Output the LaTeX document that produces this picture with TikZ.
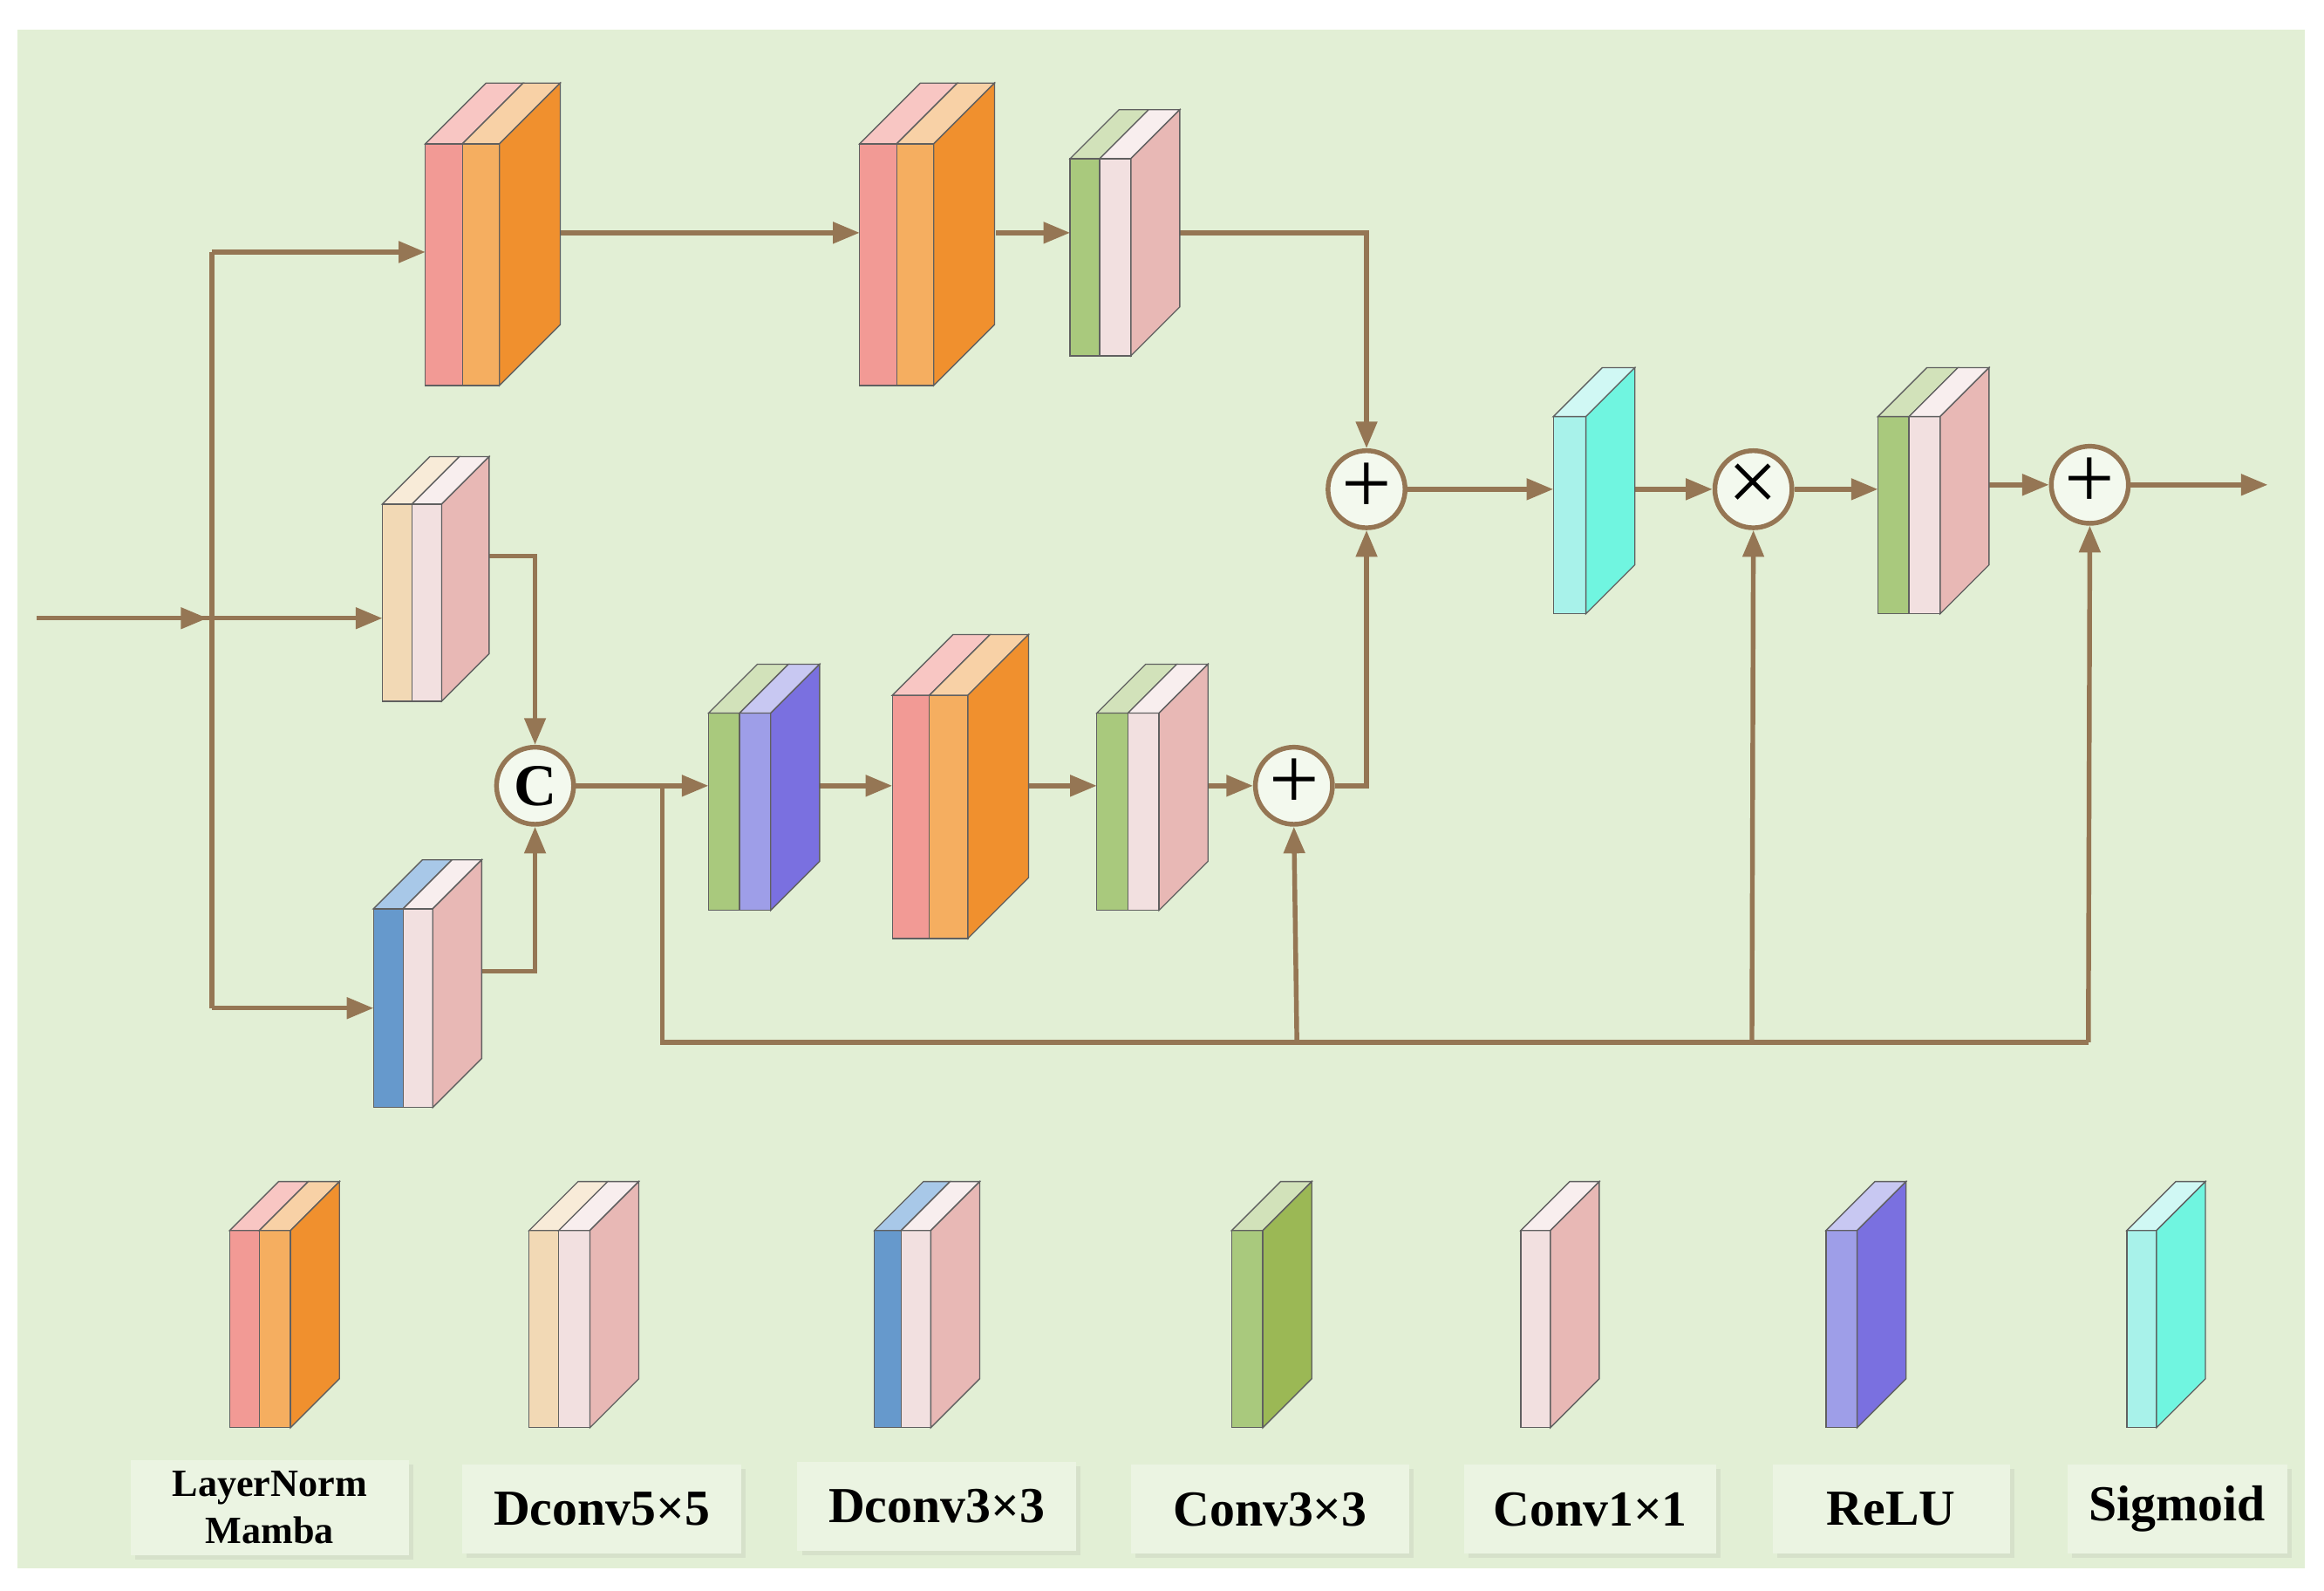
\documentclass[tikz,border=0pt]{standalone}
\usepackage{fontspec}
\setmainfont{Liberation Serif}
\usetikzlibrary{arrows.meta,shadows}
\definecolor{bg}{HTML}{E2EFD5}
\definecolor{ar}{HTML}{957654}
\definecolor{edge}{HTML}{606060}
\definecolor{pk}{HTML}{F29A95}\definecolor{pkT}{HTML}{F8C6C3}
\definecolor{pe}{HTML}{F5AE60}\definecolor{peT}{HTML}{F8D1A6}
\definecolor{orS}{HTML}{F0902E}
\definecolor{be}{HTML}{F2D9B5}\definecolor{beT}{HTML}{F8EBD8}
\definecolor{lp}{HTML}{F2E0E0}\definecolor{lpT}{HTML}{F8EEEE}
\definecolor{pS}{HTML}{E8B8B5}
\definecolor{bl}{HTML}{6699CC}\definecolor{blT}{HTML}{A8C8E8}
\definecolor{gr}{HTML}{A9C97D}\definecolor{grT}{HTML}{D2E2BA}\definecolor{grS}{HTML}{9BB855}
\definecolor{rl}{HTML}{9E9EE8}\definecolor{rlT}{HTML}{C8C8F2}\definecolor{rlS}{HTML}{7A70E0}
\definecolor{sg}{HTML}{A8F2EA}\definecolor{sgT}{HTML}{D0F8F4}\definecolor{sgS}{HTML}{70F5E0}
\newcommand\slab[7]{\filldraw[fill=#6,draw=edge,line width=0.4pt] (#1,#3) rectangle (#2,#4);
 \filldraw[fill=#7,draw=edge,line width=0.4pt] (#1,#3)--++(#5,-#5)--(#2+#5,#3-#5)--(#2,#3)--cycle;}
\newcommand\sideface[5]{\filldraw[fill=#5,draw=edge,line width=0.4pt] (#1,#2)--++(#4,-#4)--(#1+#4,#3-#4)--(#1,#3)--cycle;}
\tikzset{x=0.5pt,y=-0.5pt,
 conn/.style={draw=ar,line width=1.6pt},
 arr/.style={conn,-{Triangle[length=9pt,width=7pt]}},
 op/.style={circle,draw=ar,line width=1.6pt,fill=white!60!bg,minimum size=26pt,inner sep=0pt,font=\fontsize{30}{30}\selectfont},
 lab/.style={fill=white!30!bg,font=\bfseries\fontsize{17}{19}\selectfont,align=center,inner sep=0pt,
   drop shadow={opacity=0.12,shadow xshift=1.5pt,shadow yshift=-1.5pt}}}
\begin{document}
\begin{tikzpicture}
\useasboundingbox (0,0) rectangle (1568,1073);
\fill[white] (0,0) rectangle (1568,1073);
\fill[bg] (12,20) rectangle (1555,1058);
% circles
\node[op] (p1) at (922,330) {\raisebox{1pt}{+}};
\node[op] (m1) at (1183,330) {\raisebox{1pt}{×}};
\node[op] (p3) at (1410,327) {\raisebox{1pt}{+}};
\node[op] (p2) at (873,530) {\raisebox{1pt}{+}};
\node[op,font=\bfseries\fontsize{20}{20}\selectfont] (cc) at (361,530) {C};
\coordinate (in) at (25,417);
\coordinate (s) at (143,417);
\coordinate (out) at (1530,327);
% connectors
\draw[conn] (in) -- (s);
\draw[arr] (in) -- (140,417);
\draw[conn] (143,170) -- (143,680);
\draw[arr] (143,170) -- (287,170);
\draw[arr] (143,417) -- (258,417);
\draw[arr] (143,680) -- (252,680);
\draw[arr] (378,157) -- (580,157);
\draw[arr] (672,157) -- (722,157);
\draw[arr] (796,157) -| (p1.north);
\draw[arr] (330,375) -| (cc.north);
\draw[arr] (325,655) -| (cc.south);
\draw[arr] (cc.east) -- (478,530);
\draw[conn] (447,530) |- (1409,703);
\draw[arr] (875,703) -- (p2.south);
\draw[arr] (1182,703) -- (m1.south);
\draw[arr] (1409,703) -- (p3.south);
\draw[arr] (553,530) -- (602,530);
\draw[arr] (694,530) -- (740,530);
\draw[arr] (815,530) -- (p2.west);
\draw[arr] (p2.east) -- (922,530) -- (p1.south);
\draw[arr] (p1.east) -- (1048,330);
\draw[arr] (1103,330) -- (m1.west);
\draw[arr] (m1.east) -- (1267,330);
\draw[arr] (1342,327) -- (p3.west);
\draw[arr] (p3.east) -- (out);
% blocks
\slab{287}{312}{97}{260}{41}{pk}{pkT}\slab{312}{337}{97}{260}{41}{pe}{peT}\sideface{337}{97}{260}{41}{orS}
\slab{580}{605}{97}{260}{41}{pk}{pkT}\slab{605}{630}{97}{260}{41}{pe}{peT}\sideface{630}{97}{260}{41}{orS}
\slab{722}{742}{107}{240}{33}{gr}{grT}\slab{742}{763}{107}{240}{33}{lp}{lpT}\sideface{763}{107}{240}{33}{pS}
\slab{258}{278}{340}{473}{32}{be}{beT}\slab{278}{298}{340}{473}{32}{lp}{lpT}\sideface{298}{340}{473}{32}{pS}
\slab{252}{272}{613}{747}{33}{bl}{blT}\slab{272}{292}{613}{747}{33}{lp}{lpT}\sideface{292}{613}{747}{33}{pS}
\slab{478}{499}{481}{614}{33}{gr}{grT}\slab{499}{520}{481}{614}{33}{rl}{rlT}\sideface{520}{481}{614}{33}{rlS}
\slab{602}{627}{469}{633}{41}{pk}{pkT}\slab{627}{653}{469}{633}{41}{pe}{peT}\sideface{653}{469}{633}{41}{orS}
\slab{740}{761}{481}{614}{33}{gr}{grT}\slab{761}{782}{481}{614}{33}{lp}{lpT}\sideface{782}{481}{614}{33}{pS}
\slab{1048}{1070}{281}{414}{33}{sg}{sgT}\sideface{1070}{281}{414}{33}{sgS}
\slab{1267}{1288}{281}{414}{33}{gr}{grT}\slab{1288}{1309}{281}{414}{33}{lp}{lpT}\sideface{1309}{281}{414}{33}{pS}
% legend
\slab{155}{175}{830}{963}{33}{pk}{pkT}\slab{175}{196}{830}{963}{33}{pe}{peT}\sideface{196}{830}{963}{33}{orS}
\slab{357}{377}{830}{963}{33}{be}{beT}\slab{377}{398}{830}{963}{33}{lp}{lpT}\sideface{398}{830}{963}{33}{pS}
\slab{590}{608}{830}{963}{33}{bl}{blT}\slab{608}{628}{830}{963}{33}{lp}{lpT}\sideface{628}{830}{963}{33}{pS}
\slab{831}{852}{830}{963}{33}{gr}{grT}\sideface{852}{830}{963}{33}{grS}
\slab{1026}{1046}{830}{963}{33}{lp}{lpT}\sideface{1046}{830}{963}{33}{pS}
\slab{1232}{1253}{830}{963}{33}{rl}{rlT}\sideface{1253}{830}{963}{33}{rlS}
\slab{1435}{1455}{830}{963}{33}{sg}{sgT}\sideface{1455}{830}{963}{33}{sgS}
% labels
\node[lab,minimum width=94pt,minimum height=32pt,font=\bfseries\fontsize{13}{16}\selectfont] (l1) at (182,1017) {LayerNorm\\Mamba};
\node[lab,minimum width=94pt,minimum height=30pt] (l2) at (406,1018) {Dconv5×5};
\node[lab,minimum width=94pt,minimum height=30pt] (l3) at (632,1016) {Dconv3×3};
\node[lab,minimum width=94pt,minimum height=30pt] (l4) at (857,1018) {Conv3×3};
\node[lab,minimum width=85pt,minimum height=30pt] (l5) at (1073,1018) {Conv1×1};
\node[lab,minimum width=80pt,minimum height=30pt] (l6) at (1276,1018) {ReLU};
\node[lab,minimum width=74pt,minimum height=30pt] (l7) at (1469,1018) {Sigmoid};
\end{tikzpicture}
\end{document}
